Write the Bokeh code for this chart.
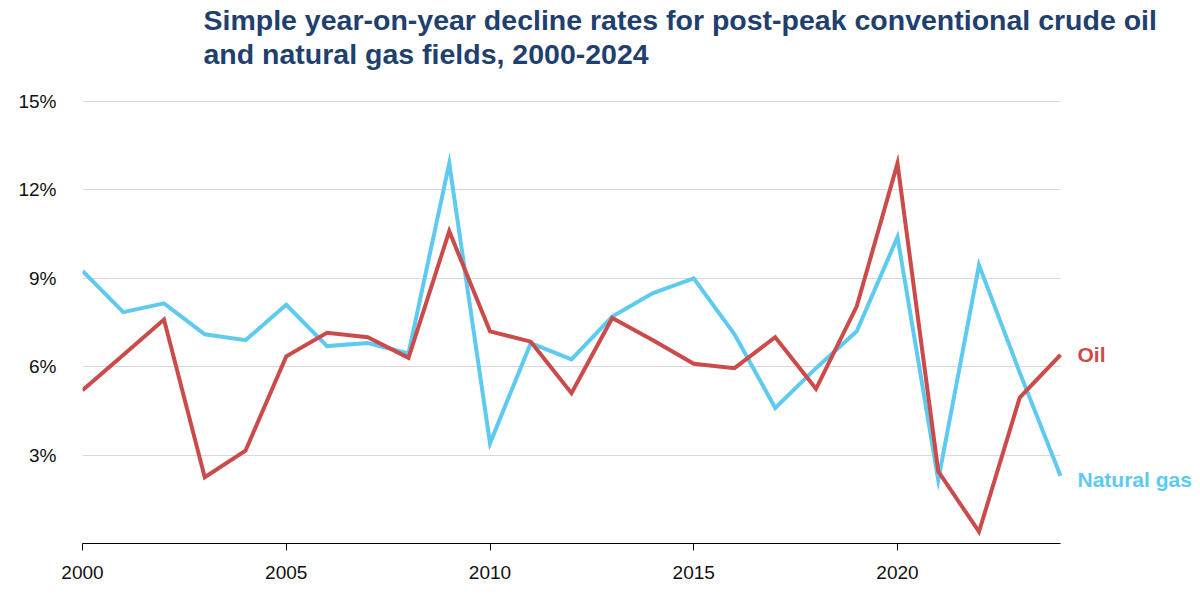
from bokeh.plotting import figure
from bokeh.models import Range1d, FixedTicker, Label, CustomJSTickFormatter
from bokeh.embed import file_html
from bokeh.resources import INLINE

years = list(range(2000, 2025))
oil = [5.2, 6.4, 7.6, 2.25, 3.15, 6.35, 7.15, 7.0, 6.3, 10.6, 7.2, 6.85, 5.1, 7.65,
       6.9, 6.1, 5.95, 7.0, 5.25, 8.05, 12.9, 2.45, 0.4, 4.95, 6.4]
gas = [9.25, 7.85, 8.15, 7.1, 6.9, 8.1, 6.7, 6.8, 6.45, 12.9, 3.4, 6.8, 6.25, 7.7,
       8.5, 9.0, 7.1, 4.6, 5.95, 7.2, 10.4, 2.15, 9.45, 5.8, 2.3]
series_names = ["Oil", "Natural gas"]
x_ticks = [2000, 2005, 2010, 2015, 2020]
y_ticks = [3, 6, 9, 12, 15]
title_lines = ["Simple year-on-year decline rates for post-peak conventional crude oil",
               "and natural gas fields, 2000-2024"]

OIL_C = "#cb4a4a"
GAS_C = "#5ecaf0"
TITLE_C = "#1f3f6e"
FONT = "Liberation Sans"

W, H = 1192, 590
LEFT = 82
AXIS_Y = 543
BOTTOM = H - AXIS_Y
PLOT_TOP = 101       # canvas y of the 15% line
PLOT_RIGHT = 1060    # canvas x of 2024
X0, X1 = years[0], years[-1]
Y0, Y1 = 0, 15
px_per_year = (PLOT_RIGHT - LEFT) / (X1 - X0)
px_per_unit = (AXIS_Y - PLOT_TOP) / (Y1 - Y0)
x_end = X1 + (W - PLOT_RIGHT) / px_per_year
y_end = Y1 + PLOT_TOP / px_per_unit

p = figure(width=W, height=H, output_backend="svg", toolbar_location=None,
           x_range=Range1d(X0, x_end), y_range=Range1d(Y0, y_end),
           min_border_left=LEFT, min_border_right=0, min_border_bottom=BOTTOM,
           min_border_top=0)
p.outline_line_color = None
p.background_fill_color = "white"
p.border_fill_color = "white"

# grid
p.xgrid.visible = False
p.ygrid.ticker = FixedTicker(ticks=y_ticks)
p.ygrid.grid_line_color = "#d9d9d9"
p.ygrid.grid_line_width = 1
p.ygrid.cross_bounds = (X0, X1)

# axes
p.yaxis.ticker = FixedTicker(ticks=y_ticks)
p.yaxis.formatter = CustomJSTickFormatter(code="return tick + '%';")
p.yaxis.axis_line_color = None
p.yaxis.major_tick_line_color = None
p.yaxis.minor_tick_line_color = None
p.yaxis.major_label_standoff = 20
p.yaxis.major_label_text_font = FONT
p.yaxis.major_label_text_font_size = "19px"
p.yaxis.major_label_text_color = "#111111"

p.xaxis.ticker = FixedTicker(ticks=x_ticks)
p.xaxis.bounds = (X0, X1)
p.xaxis.axis_line_color = "black"
p.xaxis.axis_line_width = 1
p.xaxis.major_tick_line_color = "black"
p.xaxis.major_tick_out = 7
p.xaxis.major_tick_in = 0
p.xaxis.minor_tick_line_color = None
p.xaxis.major_label_standoff = 15
p.xaxis.major_label_text_font = FONT
p.xaxis.major_label_text_font_size = "19px"
p.xaxis.major_label_text_color = "#111111"

p.line(years, gas, line_color=GAS_C, line_width=4, line_join="miter")
p.line(years, oil, line_color=OIL_C, line_width=4, line_join="miter")

p.add_layout(Label(x=years[-1], y=oil[-1], text=series_names[0], x_offset=17, y_offset=0,
                   text_baseline="middle", text_font=FONT, text_font_size="21px",
                   text_font_style="bold", text_color=OIL_C))
p.add_layout(Label(x=years[-1], y=gas[-1], text=series_names[1], x_offset=17, y_offset=-4,
                   text_baseline="middle", text_font=FONT, text_font_size="21px",
                   text_font_style="bold", text_color=GAS_C))

# title lines (canvas units)
for i, line in enumerate(title_lines):
    p.add_layout(Label(x=203, y=19 + 34 * i, x_units="canvas", y_units="canvas",
                       text=line, text_baseline="alphabetic", text_align="left",
                       text_font=FONT, text_font_size="28.5px", text_font_style="bold",
                       text_color=TITLE_C))

open("out.html", "w").write(file_html(p, INLINE))
